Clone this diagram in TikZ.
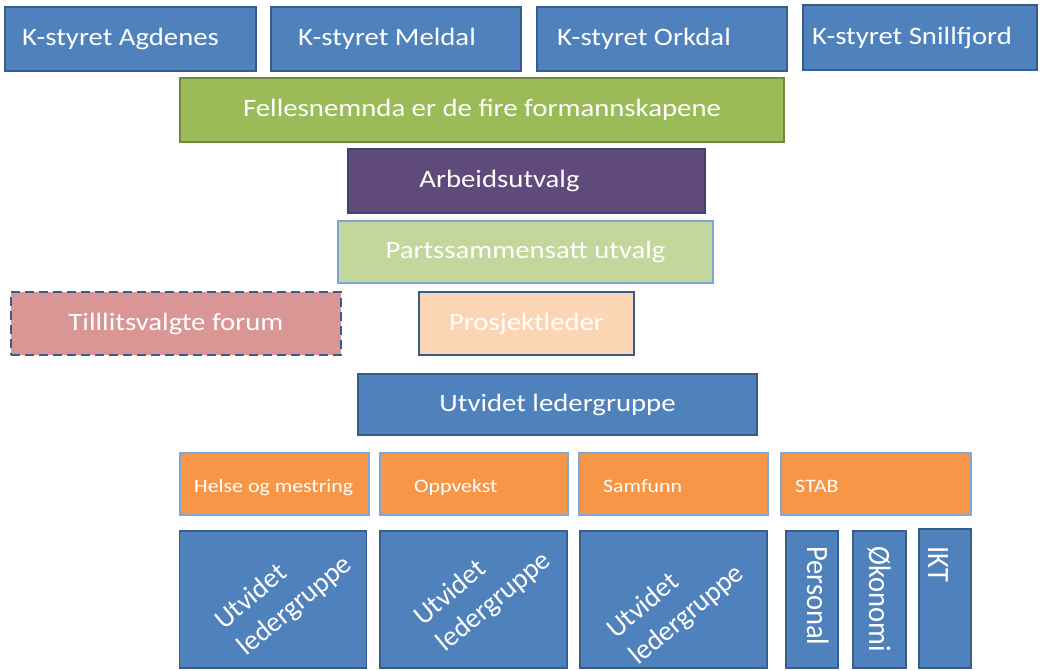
\documentclass[tikz,border=0pt]{standalone}
\usepackage{fontspec}
\setmainfont{Carlito}[FakeStretch=1.15]
\newfontfamily\hochkant{Carlito}[FakeStretch=0.92]
\newfontfamily\schraeg{Carlito}
\definecolor{blau}{HTML}{4F81BD}
\definecolor{blaurand}{HTML}{385D8A}
\definecolor{hellblaurand}{HTML}{7EA6D8}
\definecolor{gruen}{HTML}{9BBB59}
\definecolor{gruenrand}{HTML}{71893F}
\definecolor{lila}{HTML}{604A7B}
\definecolor{lilarand}{HTML}{3E4470}
\definecolor{hellgruen}{HTML}{C3D69B}
\definecolor{rosa}{HTML}{D99694}
\definecolor{pfirsich}{HTML}{FCD5B5}
\definecolor{orange}{HTML}{F79646}
\tikzset{
  kasse/.style={draw=blaurand, fill=blau, line width=1.5pt, inner sep=0pt,
    text=white, font=\fontsize{25}{30}\selectfont},
  klein/.style={text=white, inner sep=0pt, font=\fontsize{19}{23}\selectfont},
  abteilung/.style={kasse, draw=hellblaurand, fill=orange, minimum height=62},
  senkrecht/.style={text=white, rotate=-90, anchor=base west, inner sep=0pt,
    font=\hochkant\fontsize{31}{36}\selectfont},
}
% schiebt den Text im Kasten um #1 nach links
\newcommand{\links}[1]{\hspace*{#1}\hspace*{#1}}
\begin{document}
\begin{tikzpicture}[x=1pt,y=-1pt]
    % Bildgroesse wie im Original (1043 x 670 Pixel, y zeigt nach unten):
    \useasboundingbox (0,0) rectangle (1043,670);
    % Oberste Reihe: die vier Kommunestyrer (Texte etwas links von der Mitte)
    \node[kasse, minimum width=251, minimum height=64] (agdenes) at (130.5,39) {K-styret Agdenes\links{10pt}};
    \node[kasse, minimum width=250, minimum height=64] (meldal) at (396,39) {K-styret Meldal\links{9pt}};
    \node[kasse, minimum width=250, minimum height=64] (orkdal) at (662,39) {K-styret Orkdal\links{18pt}};
    \node[kasse, minimum width=234, minimum height=65] (snillfjord) at (920,37.5) {K-styret Snillfjord\links{8pt}};
    % Darunter die politischen Organe, jeweils zentriert untereinander:
    \node[kasse, fill=gruen, draw=gruenrand, minimum width=604, minimum height=64] (fellesnemnda) at (482,110)
        {Fellesnemnda er de fire formannskapene};
    \node[kasse, fill=lila, draw=lilarand, minimum width=357, minimum height=64] (arbeidsutvalg) at (526.5,181)
        {Arbeidsutvalg\links{27pt}};
    \node[kasse, fill=hellgruen, draw=hellblaurand, minimum width=375, minimum height=62] (partssammensatt) at (525.5,252)
        {Partssammensatt utvalg};
    % Gestrichelter Kasten links und der Projektleiter:
    \node[kasse, fill=rosa, line width=2.6pt, dash pattern=on 9pt off 5pt, minimum width=330, minimum height=63]
        (tillitsvalgte) at (176,323.5) {Tilllitsvalgte forum};
    \node[kasse, fill=pfirsich, minimum width=215, minimum height=63] (prosjektleder) at (526.5,323.5) {Prosjektleder};
    \node[kasse, minimum width=399, minimum height=61] (ledergruppe) at (557.5,404.5) {Utvidet ledergruppe};
    % Die vier Bereiche (orange); die Texte stehen linksbuendig mit unterschiedlichem Einzug:
    \node[abteilung, minimum width=189] (helse) at (274.5,484) {};
    \node[abteilung, minimum width=188] (oppvekst) at (474,484) {};
    \node[abteilung, minimum width=189] (samfunn) at (673.5,484) {};
    \node[abteilung, minimum width=190] (stab) at (876,484) {};
    \node[klein, anchor=base west] (helsetekst) at (194,492) {Helse og mestring};
    \node[klein, anchor=base west] (oppvekstekst) at (414,492) {Oppvekst};
    \node[klein, anchor=base west] (samfunntekst) at (603,492) {Samfunn};
    \node[klein, anchor=base west] (stabtekst) at (795,492) {STAB};
    % Unterste Reihe: drei Ledergruppen mit schraeger Schrift ...
    \foreach \name/\x/\tx/\ty in {helseleder/273/284/593, oppvekstleder/473.5/483/589, samfunnleder/673.5/676/602} {
        \node[kasse, minimum width=187, minimum height=137] (\name) at (\x,599.5) {};
        \node[text=white, rotate=40, align=left, font=\schraeg\fontsize{28}{35}\selectfont] (\name text) at (\tx,\ty)
            {Utvidet\\ledergruppe};
    }
    % ... und die drei schmalen Stabskaesten mit senkrechter Schrift:
    \node[kasse, minimum width=52, minimum height=137] (personal) at (812,599.5) {};
    \node[kasse, minimum width=53, minimum height=137] (okonomi) at (879.5,599.5) {};
    \node[kasse, minimum width=52, minimum height=139] (ikt) at (945,598.5) {};
    \node[senkrecht] (personaltekst) at (807,546) {Personal};
    \node[senkrecht] (okonomitekst) at (869,546) {Økonomi};
    \node[senkrecht] (ikttekst) at (928,546) {IKT};
\end{tikzpicture}
\end{document}
